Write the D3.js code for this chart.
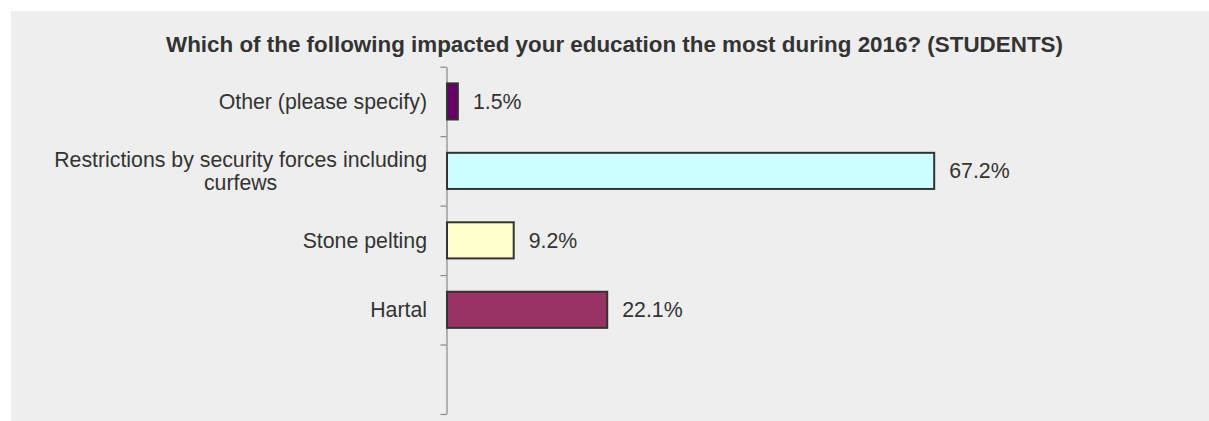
<!DOCTYPE html>
<html>
<head>
<meta charset="utf-8">
<script src="https://cdn.jsdelivr.net/npm/d3@7"></script>
<style>
  html, body { margin: 0; padding: 0; background: #ffffff; }
  svg { display: block; }
  text { font-family: "Liberation Sans", Arial, sans-serif; fill: #333333; }
</style>
</head>
<body>
<svg id="chart" width="1209" height="421"></svg>
<script>
const title = "Which of the following impacted your education the most during 2016? (STUDENTS)";
const categories = [
  ["Other (please specify)"],
  ["Restrictions by security forces including", "curfews"],
  ["Stone pelting"],
  ["Hartal"]
];
const values = [1.5, 67.2, 9.2, 22.1];
const colors = ["#660066", "#ccffff", "#ffffcc", "#993366"];
const slotCount = 5; // four categories plus one empty slot at the bottom

const svg = d3.select("#chart");
const W = 1209, H = 421;
const fs = "21.3px";

svg.append("rect")
  .attr("x", 11).attr("y", 11)
  .attr("width", W - 11).attr("height", H - 11)
  .attr("fill", "#eeeeee");

svg.append("text")
  .attr("x", 614.5).attr("y", 51.5)
  .attr("text-anchor", "middle")
  .style("font-size", "22.4px")
  .style("font-weight", "bold")
  .text(title);

const x = d3.scaleLinear().domain([0, 100]).range([447, 1172]);
const yLin = d3.scaleLinear().domain([0, slotCount]).range([66.7, 414]);
const step = yLin(1) - yLin(0);
const barH = step * 0.52;

const axis = d3.axisLeft(yLin)
  .tickValues(d3.range(slotCount + 1))
  .tickFormat("")
  .tickSize(6)
  .tickSizeOuter(0);

const g = svg.append("g")
  .attr("transform", "translate(446.5,0)")
  .call(axis);
g.selectAll("path, line").attr("stroke", "#888888").attr("stroke-width", 1.2);

const data = values.map((v, i) => ({ v, i, lines: categories[i], c: colors[i] }));

svg.selectAll("rect.bar")
  .data(data)
  .enter().append("rect")
  .attr("class", "bar")
  .attr("x", x(0))
  .attr("y", d => yLin(d.i) + (step - barH) / 2)
  .attr("width", d => x(d.v) - x(0))
  .attr("height", barH)
  .attr("fill", d => d.c)
  .attr("stroke", "#333333")
  .attr("stroke-width", 2);

svg.selectAll("text.val")
  .data(data)
  .enter().append("text")
  .attr("class", "val")
  .attr("x", d => x(d.v) + 15)
  .attr("y", d => yLin(d.i) + step / 2)
  .attr("dy", "0.35em")
  .style("font-size", fs)
  .text(d => d.v.toFixed(1) + "%");

const lineH = 23.5;
data.forEach(d => {
  const cy = yLin(d.i) + step / 2;
  const t = svg.append("text")
    .attr("class", "cat")
    .style("font-size", fs);
  const n = d.lines.length;
  if (n === 1) {
    t.attr("x", 427).attr("y", cy).attr("dy", "0.35em")
      .attr("text-anchor", "end").text(d.lines[0]);
  } else {
    const tmp = svg.append("text").style("font-size", fs).text(d.lines[0]);
    const w = tmp.node().getComputedTextLength();
    tmp.remove();
    const cx = 427 - w / 2;
    d.lines.forEach((ln, k) => {
      t.append("tspan")
        .attr("x", cx)
        .attr("y", cy + (k - (n - 1) / 2) * lineH)
        .attr("dy", "0.35em")
        .attr("text-anchor", "middle")
        .text(ln);
    });
  }
});
</script>
</body>
</html>
